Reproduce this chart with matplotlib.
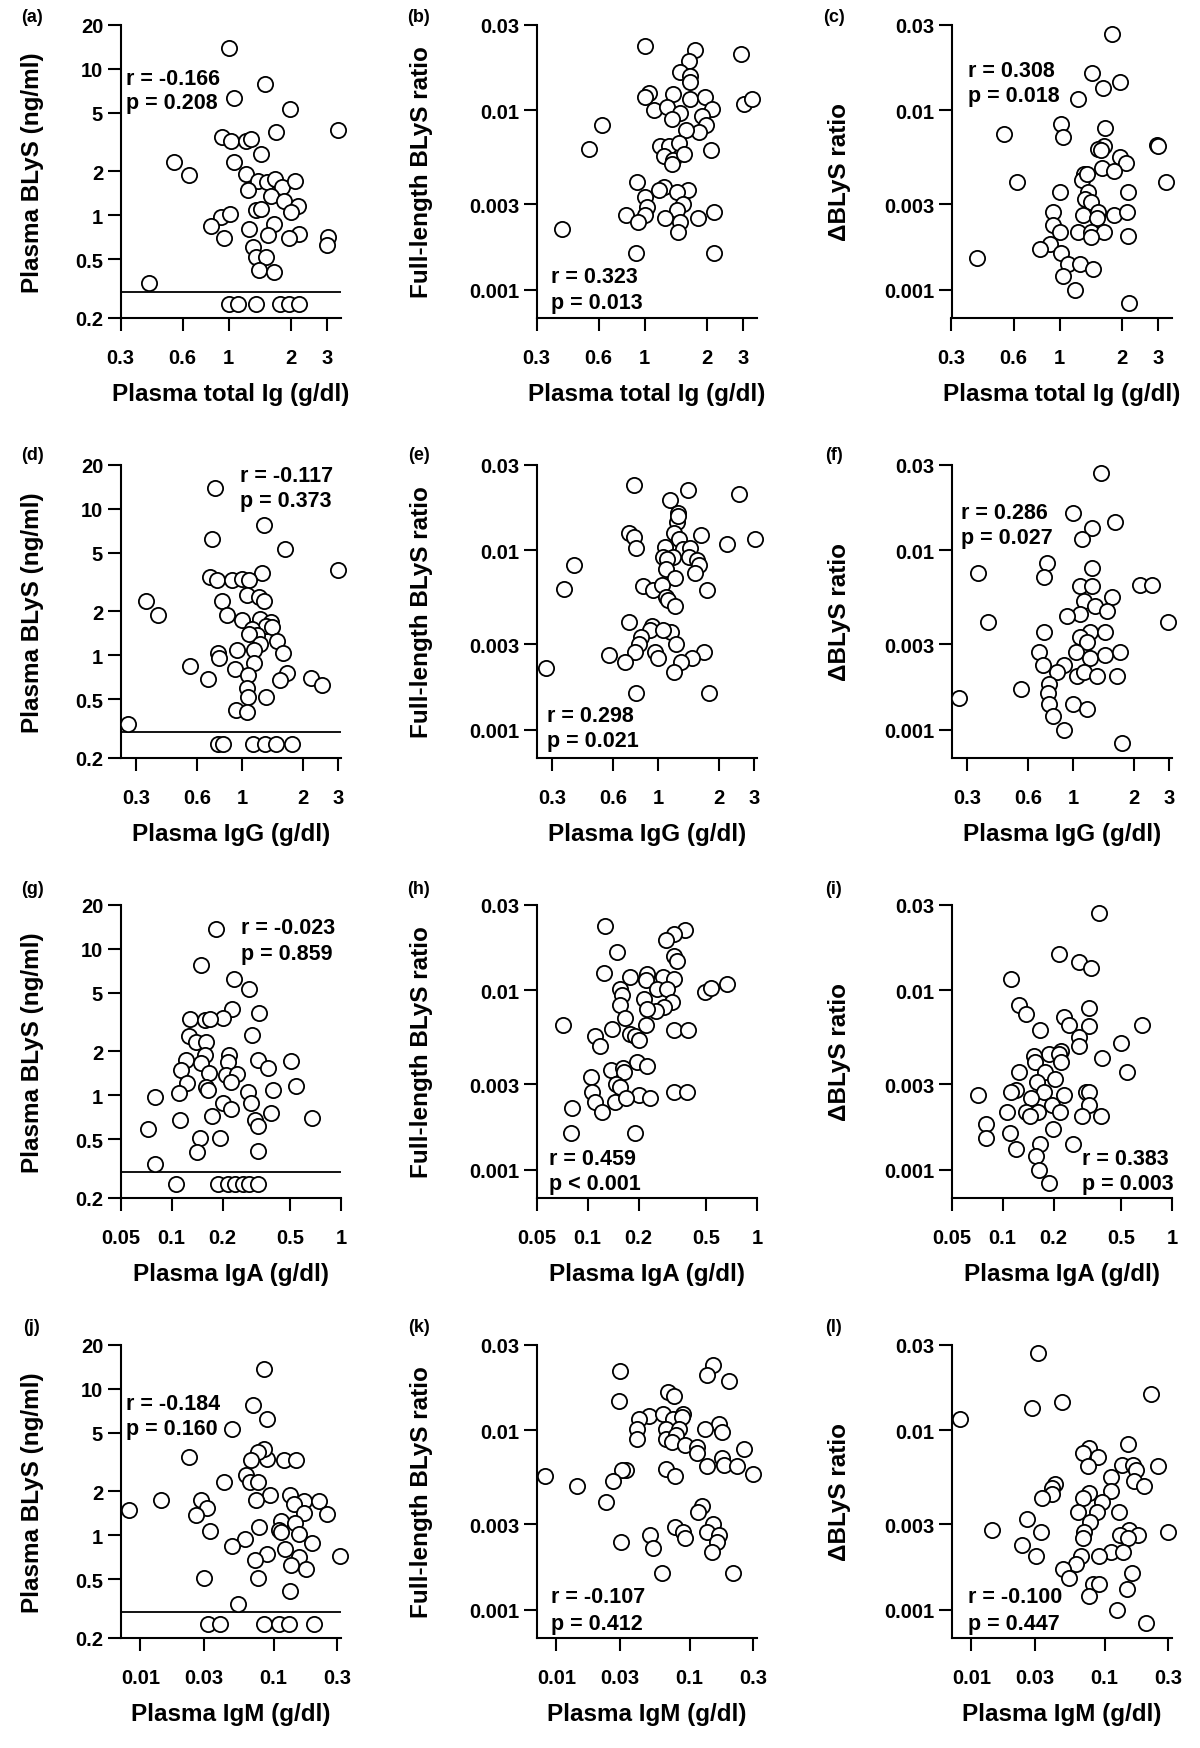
import matplotlib
matplotlib.use("Agg")
import matplotlib.pyplot as plt

plt.rcParams['font.family'] = ['Liberation Sans', 'DejaVu Sans']
plt.rcParams['font.weight'] = 'bold'

# ---- values ----
# (a) total Ig vs plasma BLyS
a_x = [1.0, 1.50, 1.06, 1.99, 3.37, 1.69, 0.93, 1.03, 1.22, 1.29, 1.43, 0.547, 0.647, 1.06, 1.22,
       1.39, 1.54, 1.67, 1.82, 2.09, 1.24, 1.60, 1.86, 2.17, 1.36, 1.44, 2.0, 0.92, 1.02, 0.82,
       1.26, 1.66, 1.55, 2.19, 1.96, 0.95, 3.03, 3.01, 1.31, 1.36, 1.52, 1.40, 1.66, 0.41,
       1.01, 1.11, 1.36, 1.77, 1.97, 2.19]
a_y = [13.8, 7.86, 6.28, 5.31, 3.82, 3.68, 3.40, 3.23, 3.23, 3.3, 2.62, 2.30, 1.89, 2.32, 1.91,
       1.72, 1.68, 1.77, 1.55, 1.72, 1.50, 1.36, 1.26, 1.15, 1.09, 1.10, 1.05, 0.97, 1.02, 0.84,
       0.81, 0.87, 0.73, 0.75, 0.70, 0.70, 0.71, 0.63, 0.605, 0.52, 0.52, 0.42, 0.41, 0.344,
       0.25, 0.25, 0.25, 0.25, 0.25, 0.25]

# (b) total Ig vs full-length BLyS ratio
b_x = [1.0, 1.75, 2.93, 1.64, 1.48, 1.66, 1.65, 1.05, 1.0, 1.38, 1.66, 1.96, 3.02, 3.31, 1.11,
       1.28, 1.48, 1.36, 2.13, 1.9, 1.98, 1.83, 0.62, 1.58, 0.54, 2.09, 1.19, 1.32, 1.46, 1.24,
       1.38, 1.36, 1.55, 0.92, 1.24, 1.17, 1.62, 1.43, 1.0, 1.03, 1.54, 1.44, 2.17, 0.81, 1.0,
       1.26, 1.82, 1.49, 0.93, 1.45, 0.40, 0.91, 2.17]
b_y = [0.0228, 0.0216, 0.0205, 0.0188, 0.0163, 0.0156, 0.0144, 0.0125, 0.0118, 0.0123, 0.0116,
       0.0119, 0.0108, 0.0115, 0.0101, 0.0104, 0.0097, 0.0089, 0.0102, 0.0093, 0.0083, 0.0076,
       0.0083, 0.0078, 0.0061, 0.006, 0.0063, 0.0063, 0.0066, 0.0056, 0.0053, 0.005, 0.0057,
       0.004, 0.00375, 0.0036, 0.0036, 0.0035, 0.0033, 0.0029, 0.003, 0.0028, 0.0027, 0.0026,
       0.0026, 0.0025, 0.0025, 0.0024, 0.0024, 0.0021, 0.00218, 0.0016, 0.0016]

# (c) total Ig vs delta BLyS ratio
c_x = [1.80, 1.43, 1.97, 1.62, 1.23, 1.02, 1.04, 0.54, 1.65, 2.96, 3.0, 1.64, 1.53, 1.59, 1.95,
       2.09, 1.6, 1.83, 1.32, 1.29, 1.36, 0.62, 3.28, 1.0, 1.38, 2.14, 1.33, 1.42, 0.93, 1.30,
       1.53, 1.83, 2.12, 1.52, 0.93, 1.01, 1.23, 1.42, 1.64, 1.42, 2.14, 0.9, 0.8, 1.02, 0.40,
       1.1, 1.26, 1.45, 1.04, 1.19, 2.16]
c_y = [0.0267, 0.0161, 0.0144, 0.0134, 0.0115, 0.0084, 0.0071, 0.0074, 0.008, 0.0064, 0.0063,
       0.0063, 0.0061, 0.006, 0.0055, 0.0051, 0.0048, 0.0046, 0.0044, 0.0041, 0.0044, 0.004,
       0.004, 0.0035, 0.0035, 0.0035, 0.0032, 0.0031, 0.0027, 0.0026, 0.0027, 0.0026, 0.0027,
       0.0025, 0.0023, 0.0021, 0.0021, 0.0021, 0.0021, 0.00196, 0.002, 0.0018, 0.0017, 0.0016,
       0.0015, 0.0014, 0.0014, 0.0013, 0.0012, 0.001, 0.00084]

# (d) IgG vs plasma BLyS
d_x = [0.736, 1.28, 0.714, 1.63, 3.01, 1.26, 0.695, 0.75, 0.89, 1.0, 1.08, 1.06, 1.22, 1.28, 0.8,
       0.336, 0.385, 0.84, 1.0, 1.23, 1.39, 1.31, 1.12, 1.41, 1.19, 1.09, 1.49, 1.23, 1.6, 1.15,
       0.95, 0.76, 0.77, 1.15, 0.553, 0.92, 1.07, 1.68, 1.55, 0.68, 2.21, 2.5, 1.06, 1.07, 1.32,
       0.94, 1.06, 0.272, 0.765, 0.81, 1.13, 1.3, 1.47, 1.77]
d_y = [13.8, 7.8, 6.24, 5.34, 3.84, 3.64, 3.42, 3.28, 3.25, 3.33, 3.25, 2.6, 2.5, 2.33, 2.33,
       2.33, 1.87, 1.89, 1.73, 1.78, 1.69, 1.58, 1.52, 1.56, 1.37, 1.4, 1.25, 1.2, 1.04, 1.09,
       1.08, 1.03, 0.96, 0.88, 0.84, 0.81, 0.73, 0.76, 0.68, 0.69, 0.70, 0.63, 0.6, 0.52, 0.52,
       0.42, 0.41, 0.342, 0.25, 0.25, 0.25, 0.25, 0.25, 0.25]

# (e) IgG vs full-length BLyS ratio
e_x = [0.76, 1.41, 2.51, 1.15, 1.26, 1.25, 1.26, 0.72, 0.76, 0.78, 1.2, 1.27, 1.64, 2.2, 3.02,
       1.08, 1.33, 1.45, 1.19, 1.06, 1.11, 1.42, 1.57, 1.6, 1.52, 1.1, 1.22, 0.385, 0.344, 0.84,
       0.95, 1.05, 1.75, 1.1, 1.12, 1.22, 0.72, 0.93, 0.91, 1.16, 0.82, 1.06, 1.23, 0.81, 0.57,
       0.77, 0.97, 1.69, 0.69, 1.0, 1.48, 1.3, 1.2, 0.278, 0.78, 1.8]
e_y = [0.023, 0.0217, 0.0206, 0.019, 0.0161, 0.0144, 0.0156, 0.0125, 0.0119, 0.0103, 0.0125,
       0.0115, 0.0121, 0.0109, 0.0116, 0.0104, 0.0102, 0.0103, 0.0092, 0.0092, 0.0089, 0.0092,
       0.0088, 0.0083, 0.0075, 0.0079, 0.0070, 0.0083, 0.0061, 0.0063, 0.006, 0.0064, 0.006,
       0.0055, 0.0053, 0.0049, 0.004, 0.0038, 0.0036, 0.0035, 0.0033, 0.0036, 0.003, 0.003,
       0.0026, 0.0027, 0.0027, 0.0027, 0.0024, 0.0025, 0.0025, 0.0024, 0.0021, 0.0022, 0.0016,
       0.0016]

# (f) IgG vs delta BLyS ratio
f_x = [1.38, 1.0, 1.62, 1.25, 1.11, 0.74, 0.72, 0.337, 1.24, 1.09, 1.24, 2.14, 2.47, 1.56, 1.14,
       1.28, 1.47, 1.09, 0.94, 2.96, 0.72, 1.22, 1.44, 0.378, 1.09, 1.18, 0.68, 1.04, 1.21, 1.45,
       1.71, 0.71, 0.9, 0.83, 1.05, 1.13, 1.31, 1.66, 0.76, 0.55, 0.75, 0.271, 0.76, 1.0, 1.17,
       0.8, 0.9, 1.75]
f_y = [0.0269, 0.0162, 0.0144, 0.0133, 0.0115, 0.0085, 0.0071, 0.0075, 0.008, 0.0063, 0.0063,
       0.0064, 0.0064, 0.0055, 0.0052, 0.0049, 0.0046, 0.0044, 0.0043, 0.004, 0.0035, 0.0035,
       0.0035, 0.004, 0.0033, 0.0031, 0.0027, 0.0027, 0.0025, 0.0026, 0.0027, 0.0023, 0.0023,
       0.0021, 0.002, 0.0021, 0.002, 0.002, 0.0018, 0.0017, 0.0016, 0.0015, 0.0014, 0.0014,
       0.0013, 0.0012, 0.001, 0.00084]

# (g) IgA vs plasma BLyS
g_x = [0.182, 0.15, 0.234, 0.288, 0.227, 0.327, 0.2, 0.128, 0.157, 0.169, 0.297, 0.127, 0.139,
       0.159, 0.219, 0.157, 0.121, 0.326, 0.509, 0.216, 0.15, 0.373, 0.113, 0.167, 0.209, 0.245,
       0.124, 0.224, 0.159, 0.54, 0.165, 0.396, 0.281, 0.111, 0.08, 0.2, 0.295, 0.224, 0.384,
       0.174, 0.67, 0.112, 0.311, 0.326, 0.073, 0.147, 0.194, 0.141, 0.323, 0.08,
       0.107, 0.187, 0.214, 0.238, 0.263, 0.288, 0.323]
g_y = [13.6, 7.8, 6.24, 5.34, 3.9, 3.64, 3.39, 3.3, 3.25, 3.33, 2.6, 2.54, 2.31, 2.31, 1.87,
       1.87, 1.73, 1.73, 1.71, 1.69, 1.66, 1.54, 1.48, 1.42, 1.38, 1.4, 1.21, 1.23, 1.14, 1.15,
       1.08, 1.08, 1.05, 1.03, 0.97, 0.88, 0.88, 0.81, 0.76, 0.72, 0.7, 0.68, 0.68, 0.62, 0.59,
       0.51, 0.51, 0.41, 0.415, 0.342, 0.25, 0.25, 0.25, 0.25, 0.25, 0.25, 0.25]

# (h) IgA vs full-length BLyS ratio
h_x = [0.127, 0.374, 0.324, 0.291, 0.149, 0.324, 0.339, 0.125, 0.179, 0.225, 0.22, 0.28, 0.326,
       0.258, 0.295, 0.156, 0.159, 0.492, 0.538, 0.664, 0.215, 0.316, 0.156, 0.282, 0.252, 0.225,
       0.167, 0.072, 0.22, 0.14, 0.324, 0.39, 0.179, 0.19, 0.11, 0.202, 0.119, 0.196, 0.225,
       0.138, 0.162, 0.165, 0.105, 0.148, 0.156, 0.107, 0.2, 0.324, 0.384, 0.11, 0.146, 0.169,
       0.233, 0.081, 0.122, 0.08, 0.19]
h_y = [0.0228, 0.0217, 0.0206, 0.019, 0.0163, 0.0156, 0.0146, 0.0125, 0.0118, 0.0124, 0.0114,
       0.0118, 0.0116, 0.0102, 0.0102, 0.0102, 0.0094, 0.0098, 0.0103, 0.0108, 0.0089, 0.0086,
       0.0083, 0.0081, 0.0077, 0.0079, 0.007, 0.0064, 0.0064, 0.0061, 0.006, 0.006, 0.0057,
       0.0056, 0.0056, 0.0053, 0.0049, 0.004, 0.0038, 0.0036, 0.0037, 0.0035, 0.0033, 0.003,
       0.0029, 0.0027, 0.0026, 0.0027, 0.0027, 0.0024, 0.0024, 0.0025, 0.0025, 0.0022, 0.0021,
       0.0016, 0.0016]

# (i) IgA vs delta BLyS ratio
i_x = [0.37, 0.216, 0.284, 0.333, 0.112, 0.125, 0.137, 0.326, 0.23, 0.246, 0.326, 0.667, 0.166,
       0.284, 0.497, 0.281, 0.189, 0.221, 0.214, 0.385, 0.154, 0.156, 0.221, 0.125, 0.179, 0.542,
       0.204, 0.16, 0.12, 0.112, 0.175, 0.072, 0.232, 0.311, 0.326, 0.147, 0.195, 0.322, 0.106,
       0.137, 0.163, 0.219, 0.146, 0.295, 0.382, 0.08, 0.08, 0.198, 0.11, 0.26, 0.167, 0.12,
       0.158, 0.165, 0.189]
i_y = [0.0269, 0.016, 0.0144, 0.0133, 0.0115, 0.0083, 0.0074, 0.008, 0.0071, 0.0064, 0.0063,
       0.0064, 0.006, 0.0055, 0.0051, 0.0049, 0.0044, 0.0046, 0.0044, 0.0042, 0.0043, 0.004,
       0.004, 0.0035, 0.0035, 0.0035, 0.0032, 0.0031, 0.0028, 0.0027, 0.0027, 0.0026, 0.0026,
       0.0027, 0.0027, 0.0025, 0.0023, 0.0023, 0.0021, 0.0021, 0.0021, 0.0021, 0.002, 0.002,
       0.002, 0.0018, 0.0015, 0.0017, 0.0016, 0.0014, 0.0014, 0.0013, 0.0012, 0.001, 0.00084]

# (j) IgM vs plasma BLyS
j_x = [0.085, 0.0696, 0.0886, 0.0487, 0.0233, 0.119, 0.147, 0.089, 0.084, 0.076, 0.068, 0.062,
       0.066, 0.076, 0.0427, 0.0945, 0.133, 0.0285, 0.0143, 0.074, 0.17, 0.22, 0.141, 0.0316,
       0.0082, 0.17, 0.0262, 0.251, 0.113, 0.145, 0.077, 0.11, 0.0335, 0.156, 0.113, 0.061,
       0.193, 0.049, 0.122, 0.154, 0.089, 0.316, 0.072, 0.135, 0.175, 0.0302, 0.076, 0.133,
       0.0543, 0.032, 0.0396, 0.084, 0.11, 0.131, 0.202]
j_y = [13.6, 7.8, 6.24, 5.28, 3.42, 3.25, 3.28, 3.3, 3.9, 3.7, 3.25, 2.56, 2.31, 2.31, 2.31,
       1.87, 1.87, 1.75, 1.73, 1.73, 1.71, 1.71, 1.64, 1.54, 1.48, 1.42, 1.37, 1.39, 1.25, 1.21,
       1.14, 1.08, 1.07, 1.02, 1.05, 0.95, 0.88, 0.84, 0.81, 0.71, 0.74, 0.72, 0.68, 0.63, 0.59,
       0.51, 0.51, 0.415, 0.342, 0.25, 0.25, 0.25, 0.25, 0.25, 0.25]

# (k) IgM vs full-length BLyS ratio
k_x = [0.15, 0.134, 0.0301, 0.198, 0.069, 0.0762, 0.0293, 0.0493, 0.0414, 0.0633, 0.0748,
       0.0896, 0.088, 0.165, 0.13, 0.176, 0.0403, 0.0659, 0.083, 0.0403, 0.0659, 0.0784, 0.0731,
       0.092, 0.113, 0.114, 0.257, 0.174, 0.18, 0.136, 0.226, 0.297, 0.0332, 0.031, 0.0659,
       0.0775, 0.0264, 0.00826, 0.0142, 0.0236, 0.123, 0.116, 0.15, 0.0775, 0.0896, 0.092,
       0.134, 0.165, 0.16, 0.05, 0.0307, 0.053, 0.148, 0.0622, 0.21]
k_y = [0.023, 0.0204, 0.0215, 0.0188, 0.0163, 0.0156, 0.0146, 0.012, 0.0116, 0.0124, 0.0115,
       0.0124, 0.0118, 0.0109, 0.0102, 0.0098, 0.0102, 0.0102, 0.0102, 0.0089, 0.009, 0.0094,
       0.0086, 0.0083, 0.0081, 0.0075, 0.0079, 0.007, 0.0064, 0.0063, 0.0063, 0.0057, 0.006,
       0.006, 0.0061, 0.0056, 0.0052, 0.0056, 0.0049, 0.004, 0.0038, 0.0035, 0.003, 0.0029,
       0.0027, 0.0025, 0.0027, 0.0026, 0.0024, 0.0026, 0.0024, 0.0022, 0.0021, 0.0016, 0.0016]

# (l) IgM vs delta BLyS ratio
l_x = [0.0316, 0.224, 0.0482, 0.0287, 0.00817, 0.149, 0.0758, 0.0683, 0.0886, 0.135, 0.0744,
       0.163, 0.172, 0.251, 0.112, 0.167, 0.199, 0.0425, 0.04, 0.0406, 0.0337, 0.112, 0.0766,
       0.0683, 0.0955, 0.0876, 0.0626, 0.129, 0.0263, 0.078, 0.0143, 0.0331, 0.153, 0.177,
       0.298, 0.131, 0.0694, 0.0683, 0.149, 0.0241, 0.112, 0.137, 0.0304, 0.0663, 0.09, 0.0608,
       0.0488, 0.161, 0.0542, 0.0812, 0.09, 0.147, 0.0758, 0.123, 0.205]
l_y = [0.0269, 0.016, 0.0144, 0.0133, 0.0115, 0.0084, 0.008, 0.0075, 0.0071, 0.0064, 0.0063,
       0.0064, 0.006, 0.0063, 0.0055, 0.0052, 0.0049, 0.005, 0.0048, 0.0044, 0.0042, 0.0046,
       0.0045, 0.0042, 0.004, 0.0035, 0.0035, 0.0035, 0.0032, 0.0031, 0.0028, 0.0027, 0.0028,
       0.0026, 0.0027, 0.0026, 0.0027, 0.0025, 0.0025, 0.0023, 0.0021, 0.0021, 0.002, 0.002,
       0.002, 0.0018, 0.0017, 0.0016, 0.0015, 0.0014, 0.0014, 0.0013, 0.0012, 0.001, 0.00084]

# correlation results printed in each panel
stats = {
    'a': ('r = -0.166', 'p = 0.208'), 'b': ('r = 0.323', 'p = 0.013'), 'c': ('r = 0.308', 'p = 0.018'),
    'd': ('r = -0.117', 'p = 0.373'), 'e': ('r = 0.298', 'p = 0.021'), 'f': ('r = 0.286', 'p = 0.027'),
    'g': ('r = -0.023', 'p = 0.859'), 'h': ('r = 0.459', 'p < 0.001'), 'i': ('r = 0.383', 'p = 0.003'),
    'j': ('r = -0.184', 'p = 0.160'), 'k': ('r = -0.107', 'p = 0.412'), 'l': ('r = -0.100', 'p = 0.447'),
}

x_labels = ['Plasma total Ig (g/dl)', 'Plasma IgG (g/dl)', 'Plasma IgA (g/dl)', 'Plasma IgM (g/dl)']
y_labels = ['Plasma BLyS (ng/ml)', 'Full-length BLyS ratio', '\u0394BLyS ratio']

x_ticks = [[0.3, 0.6, 1, 2, 3], [0.3, 0.6, 1, 2, 3], [0.05, 0.1, 0.2, 0.5, 1], [0.01, 0.03, 0.1, 0.3]]
x_ticklabels = [['0.3', '0.6', '1', '2', '3'], ['0.3', '0.6', '1', '2', '3'],
                ['0.05', '0.1', '0.2', '0.5', '1'], ['0.01', '0.03', '0.1', '0.3']]
x_lims = [(0.3, 3.5), (0.25, 3.1), (0.05, 1.0), (0.0071, 0.32)]

blys_ticks = [0.2, 0.5, 1, 2, 5, 10, 20]
blys_ticklabels = ['0.2', '0.5', '1', '2', '5', '10', '20']
ratio_ticks = [0.001, 0.003, 0.01, 0.03]
ratio_ticklabels = ['0.001', '0.003', '0.01', '0.03']
detection_limit = 0.3

data = {'a': (a_x, a_y), 'b': (b_x, b_y), 'c': (c_x, c_y), 'd': (d_x, d_y),
        'e': (e_x, e_y), 'f': (f_x, f_y), 'g': (g_x, g_y), 'h': (h_x, h_y),
        'i': (i_x, i_y), 'j': (j_x, j_y), 'k': (k_x, k_y), 'l': (l_x, l_y)}

# layout (pixels of the 1200x1749 output)
W, H = 1200, 1749
col_left = [120.5, 536.5, 951.5]
row_top = [25.7, 465.7, 905.7, 1345.7]
ax_w, ax_h = 220.5, 293.0
ylabel_x = [-0.40, -0.52, -0.51]
letter_x = [32, 419, 834]
letter_y = [17, 455, 890, 1328]
# where the r / p text sits (axes fraction): x, y of r line, y of p line
stat_pos = {
    'a': (0.027, 0.815, 0.736), 'b': (0.068, 0.141, 0.051), 'c': (0.073, 0.843, 0.758),
    'd': (0.542, 0.962, 0.877), 'e': (0.049, 0.144, 0.059), 'f': (0.041, 0.838, 0.753),
    'g': (0.548, 0.923, 0.834), 'h': (0.056, 0.133, 0.048), 'i': (0.591, 0.133, 0.048),
    'j': (0.023, 0.800, 0.715), 'k': (0.064, 0.139, 0.048), 'l': (0.073, 0.139, 0.048),
}

fig = plt.figure(figsize=(12, 17.49), dpi=100)

letters = 'abcdefghijkl'
for n, letter in enumerate(letters):
    row, col = divmod(n, 3)
    left, top = col_left[col], row_top[row]
    ax = fig.add_axes([left / W, 1 - (top + ax_h) / H, ax_w / W, ax_h / H])
    ax.set_xscale('log')
    ax.set_yscale('log')

    xs, ys = data[letter]
    ax.scatter(xs, ys, s=120, facecolors='white', edgecolors='black',
               linewidths=1.3, zorder=3, clip_on=False)

    ax.set_xlim(*x_lims[row])
    if col == 0:
        ax.set_ylim(0.2, 20)
        ax.axhline(detection_limit, color='black', lw=1.3, zorder=2)
        ax.set_yticks(blys_ticks, blys_ticklabels)
    else:
        ax.set_ylim(0.0007, 0.03)
        ax.set_yticks(ratio_ticks, ratio_ticklabels)
    ax.set_xticks(x_ticks[row], x_ticklabels[row])
    ax.minorticks_off()

    for side in ['top', 'right']:
        ax.spines[side].set_visible(False)
    for side in ['left', 'bottom']:
        ax.spines[side].set_linewidth(1.5)
    ax.tick_params(axis='both', direction='out', length=9.5, width=1.5, labelsize=14.5)
    ax.tick_params(axis='y', pad=3)
    ax.tick_params(axis='x', pad=12)

    ax.set_xlabel(x_labels[row], fontsize=17.5, fontweight='bold', va='center')
    ax.xaxis.set_label_coords(0.5, -0.26)
    ax.set_ylabel(y_labels[col], fontsize=17.5, fontweight='bold', va='center')
    ax.yaxis.set_label_coords(ylabel_x[col], 0.5)

    r_txt, p_txt = stats[letter]
    sx, sy1, sy2 = stat_pos[letter]
    ax.text(sx, sy1, r_txt, transform=ax.transAxes, ha='left', va='center',
            fontsize=15.5, fontweight='bold', zorder=4)
    ax.text(sx, sy2, p_txt, transform=ax.transAxes, ha='left', va='center',
            fontsize=15.5, fontweight='bold', zorder=4)

    fig.text(letter_x[col] / W, 1 - letter_y[row] / H, '(%s)' % letter,
             ha='center', va='center', fontsize=13, fontweight='bold')

fig.savefig('out.png', dpi=100)
